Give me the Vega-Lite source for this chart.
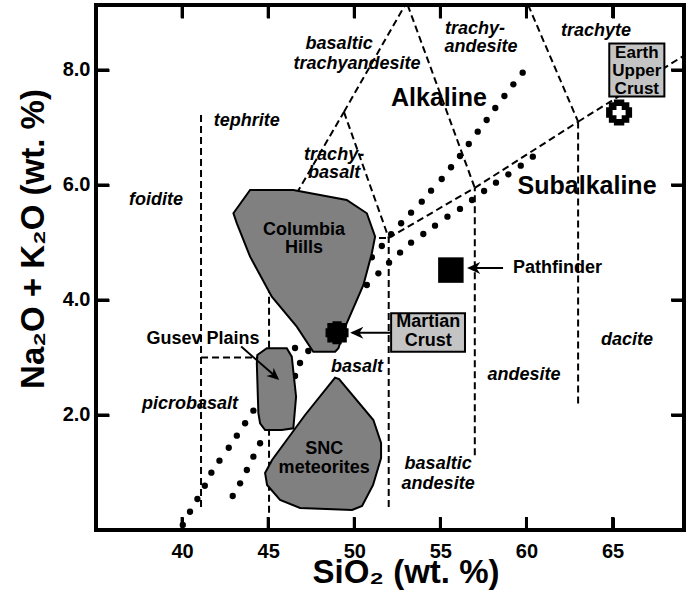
{
  "$schema": "https://vega.github.io/schema/vega-lite/v6.json",
  "width": 588,
  "height": 525,
  "autosize": "none",
  "padding": {"left": 96, "top": 5, "right": 7, "bottom": 72},
  "background": "white",
  "config": {
    "font": "Liberation Sans",
    "view": {"stroke": "black", "strokeWidth": 4}
  },
  "resolve": {"axis": {"x": "independent", "y": "independent"}},
  "datasets": {
    "frameticks": [
      {"x": 40, "y": 0, "x2": 40, "y2": 0.226},
      {"x": 45, "y": 0, "x2": 45, "y2": 0.226},
      {"x": 50, "y": 0, "x2": 50, "y2": 0.226},
      {"x": 55, "y": 0, "x2": 55, "y2": 0.226},
      {"x": 60, "y": 0, "x2": 60, "y2": 0.226},
      {"x": 65, "y": 0, "x2": 65, "y2": 0.226},
      {"x": 40, "y": 9.13, "x2": 40, "y2": 8.904},
      {"x": 45, "y": 9.13, "x2": 45, "y2": 8.904},
      {"x": 50, "y": 9.13, "x2": 50, "y2": 8.904},
      {"x": 55, "y": 9.13, "x2": 55, "y2": 8.904},
      {"x": 60, "y": 9.13, "x2": 60, "y2": 8.904},
      {"x": 65, "y": 9.13, "x2": 65, "y2": 8.904},
      {"x": 35, "y": 2, "x2": 35.755, "y2": 2},
      {"x": 35, "y": 4, "x2": 35.755, "y2": 4},
      {"x": 35, "y": 6, "x2": 35.755, "y2": 6},
      {"x": 35, "y": 8, "x2": 35.755, "y2": 8},
      {"x": 69.15, "y": 2, "x2": 68.395, "y2": 2},
      {"x": 69.15, "y": 4, "x2": 68.395, "y2": 4},
      {"x": 69.15, "y": 6, "x2": 68.395, "y2": 6},
      {"x": 69.15, "y": 8, "x2": 68.395, "y2": 8}
    ],
    "bounds": [
      {"x": 41.1, "y": 0.4, "x2": 41.1, "y2": 7.22},
      {"x": 41.1, "y": 3.0, "x2": 45.05, "y2": 3.0},
      {"x": 45.05, "y": 0.3, "x2": 45.05, "y2": 5.03},
      {"x": 45.05, "y": 5.03, "x2": 52.0, "y2": 5.08},
      {"x": 52.0, "y": 0.4, "x2": 52.0, "y2": 5.08},
      {"x": 52.0, "y": 5.08, "x2": 57.0, "y2": 5.95},
      {"x": 57.0, "y": 1.3, "x2": 57.0, "y2": 5.95},
      {"x": 57.0, "y": 5.95, "x2": 63.0, "y2": 7.1},
      {"x": 63.0, "y": 2.2, "x2": 63.0, "y2": 7.1},
      {"x": 63.0, "y": 7.1, "x2": 69.15, "y2": 8.25},
      {"x": 45.05, "y": 5.03, "x2": 49.4, "y2": 7.27},
      {"x": 49.4, "y": 7.27, "x2": 52.0, "y2": 5.08},
      {"x": 49.4, "y": 7.27, "x2": 52.95, "y2": 9.13},
      {"x": 53.1, "y": 9.13, "x2": 57.0, "y2": 5.95},
      {"x": 60.1, "y": 9.13, "x2": 63.0, "y2": 7.1}
    ],
    "dots": [
      {"s": "A", "x": 40.04, "y": 0.087},
      {"s": "A", "x": 40.46, "y": 0.318},
      {"s": "A", "x": 40.89, "y": 0.539},
      {"s": "A", "x": 41.32, "y": 0.770},
      {"s": "A", "x": 41.70, "y": 0.997},
      {"s": "A", "x": 42.17, "y": 1.205},
      {"s": "A", "x": 42.71, "y": 1.431},
      {"s": "A", "x": 43.18, "y": 1.640},
      {"s": "A", "x": 43.66, "y": 1.856},
      {"s": "A", "x": 44.14, "y": 2.075},
      {"s": "A", "x": 46.56, "y": 3.165},
      {"s": "A", "x": 51.02, "y": 4.743},
      {"s": "A", "x": 51.60, "y": 4.939},
      {"s": "A", "x": 52.14, "y": 5.143},
      {"s": "A", "x": 52.72, "y": 5.334},
      {"s": "A", "x": 53.30, "y": 5.518},
      {"s": "A", "x": 53.92, "y": 5.710},
      {"s": "A", "x": 54.46, "y": 5.901},
      {"s": "A", "x": 55.08, "y": 6.104},
      {"s": "A", "x": 55.62, "y": 6.308},
      {"s": "A", "x": 56.14, "y": 6.504},
      {"s": "A", "x": 56.65, "y": 6.713},
      {"s": "A", "x": 57.17, "y": 6.927},
      {"s": "A", "x": 57.69, "y": 7.130},
      {"s": "A", "x": 58.19, "y": 7.339},
      {"s": "A", "x": 58.72, "y": 7.548},
      {"s": "A", "x": 59.24, "y": 7.751},
      {"s": "A", "x": 59.78, "y": 7.953},
      {"s": "B", "x": 42.94, "y": 0.591},
      {"s": "B", "x": 43.37, "y": 0.812},
      {"s": "B", "x": 43.76, "y": 1.043},
      {"s": "B", "x": 44.14, "y": 1.275},
      {"s": "B", "x": 44.53, "y": 1.508},
      {"s": "B", "x": 46.56, "y": 2.678},
      {"s": "B", "x": 46.85, "y": 2.904},
      {"s": "B", "x": 47.33, "y": 3.113},
      {"s": "B", "x": 50.73, "y": 4.261},
      {"s": "B", "x": 51.40, "y": 4.464},
      {"s": "B", "x": 52.02, "y": 4.649},
      {"s": "B", "x": 52.66, "y": 4.823},
      {"s": "B", "x": 53.30, "y": 4.997},
      {"s": "B", "x": 54.01, "y": 5.148},
      {"s": "B", "x": 54.69, "y": 5.292},
      {"s": "B", "x": 55.41, "y": 5.449},
      {"s": "B", "x": 56.14, "y": 5.583},
      {"s": "B", "x": 56.84, "y": 5.739},
      {"s": "B", "x": 57.54, "y": 5.896},
      {"s": "B", "x": 58.23, "y": 6.040},
      {"s": "B", "x": 58.95, "y": 6.186},
      {"s": "B", "x": 59.67, "y": 6.336},
      {"s": "B", "x": 60.37, "y": 6.492}
    ],
    "polys": [
      {"name": "Columbia Hills", "ord": 1, "x": 42.98, "y": 5.508},
      {"name": "Columbia Hills", "ord": 2, "x": 43.95, "y": 5.913},
      {"name": "Columbia Hills", "ord": 3, "x": 46.46, "y": 5.913},
      {"name": "Columbia Hills", "ord": 4, "x": 49.56, "y": 5.739},
      {"name": "Columbia Hills", "ord": 5, "x": 50.73, "y": 5.508},
      {"name": "Columbia Hills", "ord": 6, "x": 51.21, "y": 5.101},
      {"name": "Columbia Hills", "ord": 7, "x": 51.02, "y": 4.812},
      {"name": "Columbia Hills", "ord": 8, "x": 50.53, "y": 4.261},
      {"name": "Columbia Hills", "ord": 9, "x": 49.56, "y": 3.595},
      {"name": "Columbia Hills", "ord": 10, "x": 49.08, "y": 3.160},
      {"name": "Columbia Hills", "ord": 11, "x": 48.89, "y": 3.101},
      {"name": "Columbia Hills", "ord": 12, "x": 47.62, "y": 3.101},
      {"name": "Columbia Hills", "ord": 13, "x": 46.66, "y": 3.536},
      {"name": "Columbia Hills", "ord": 14, "x": 45.21, "y": 4.057},
      {"name": "Columbia Hills", "ord": 15, "x": 43.95, "y": 4.753},
      {"name": "Columbia Hills", "ord": 16, "x": 43.18, "y": 5.334},
      {"name": "Gusev Plains", "ord": 1, "x": 44.37, "y": 3.043},
      {"name": "Gusev Plains", "ord": 2, "x": 44.92, "y": 3.160},
      {"name": "Gusev Plains", "ord": 3, "x": 46.08, "y": 3.160},
      {"name": "Gusev Plains", "ord": 4, "x": 46.37, "y": 3.014},
      {"name": "Gusev Plains", "ord": 5, "x": 46.62, "y": 2.318},
      {"name": "Gusev Plains", "ord": 6, "x": 46.46, "y": 1.769},
      {"name": "Gusev Plains", "ord": 7, "x": 45.79, "y": 1.739},
      {"name": "Gusev Plains", "ord": 8, "x": 44.82, "y": 1.739},
      {"name": "Gusev Plains", "ord": 9, "x": 44.53, "y": 1.856},
      {"name": "Gusev Plains", "ord": 10, "x": 44.43, "y": 2.030},
      {"name": "Gusev Plains", "ord": 11, "x": 44.34, "y": 2.899},
      {"name": "SNC meteorites", "ord": 1, "x": 48.885, "y": 2.649},
      {"name": "SNC meteorites", "ord": 2, "x": 49.117, "y": 2.626},
      {"name": "SNC meteorites", "ord": 3, "x": 51.109, "y": 1.913},
      {"name": "SNC meteorites", "ord": 4, "x": 51.556, "y": 1.513},
      {"name": "SNC meteorites", "ord": 5, "x": 51.556, "y": 1.252},
      {"name": "SNC meteorites", "ord": 6, "x": 51.092, "y": 0.783},
      {"name": "SNC meteorites", "ord": 7, "x": 50.453, "y": 0.417},
      {"name": "SNC meteorites", "ord": 8, "x": 49.872, "y": 0.348},
      {"name": "SNC meteorites", "ord": 9, "x": 46.852, "y": 0.383},
      {"name": "SNC meteorites", "ord": 10, "x": 45.691, "y": 0.522},
      {"name": "SNC meteorites", "ord": 11, "x": 44.936, "y": 0.783},
      {"name": "SNC meteorites", "ord": 12, "x": 44.820, "y": 0.991},
      {"name": "SNC meteorites", "ord": 13, "x": 45.226, "y": 1.217},
      {"name": "SNC meteorites", "ord": 14, "x": 47.143, "y": 2.0}
    ],
    "markers": [
      {"name": "Martian Crust", "x": 49.0, "y": 3.43},
      {"name": "Pathfinder", "x": 55.61, "y": 4.52},
      {"name": "Earth Upper Crust", "x": 65.38, "y": 7.26}
    ],
    "boxes": [
      {"name": "Martian Crust", "x": 52.14, "x2": 56.43, "y": 3.10, "y2": 3.77},
      {"name": "Earth Upper Crust", "x": 64.81, "x2": 68.01, "y": 7.54, "y2": 8.46}
    ],
    "arrows": [
      {"name": "Martian Crust", "x": 52.17, "y": 3.43, "x2": 49.9, "y2": 3.43},
      {"name": "Pathfinder", "x": 58.64, "y": 4.557, "x2": 56.7, "y2": 4.557},
      {"name": "Gusev Plains", "x": 43.43, "y": 3.19, "x2": 45.5, "y2": 2.65}
    ],
    "heads": [
      {"name": "Martian Crust", "x": 49.76, "y": 3.43},
      {"name": "Pathfinder", "x": 56.55, "y": 4.557},
      {"name": "Gusev Plains", "x": 45.64, "y": 2.61}
    ],
    "rocks": [
      {"t": "foidite", "x": 38.49, "y": 5.74},
      {"t": "tephrite", "x": 43.76, "y": 7.11},
      {"t": "basaltic", "x": 49.12, "y": 8.45},
      {"t": "trachyandesite", "x": 50.16, "y": 8.10},
      {"t": "trachy-", "x": 57.01, "y": 8.72},
      {"t": "andesite", "x": 57.36, "y": 8.40},
      {"t": "trachyte", "x": 64.04, "y": 8.67},
      {"t": "trachy-", "x": 48.83, "y": 6.52},
      {"t": "basalt", "x": 48.83, "y": 6.20},
      {"t": "picrobasalt", "x": 40.46, "y": 2.19},
      {"t": "basalt", "x": 50.16, "y": 2.84},
      {"t": "andesite", "x": 59.86, "y": 2.70},
      {"t": "dacite", "x": 65.84, "y": 3.30},
      {"t": "basaltic", "x": 54.87, "y": 1.14},
      {"t": "andesite", "x": 54.87, "y": 0.80}
    ],
    "names": [
      {"t": "Columbia", "x": 47.08, "y": 5.22},
      {"t": "Hills", "x": 47.08, "y": 4.90},
      {"t": "Gusev Plains", "x": 41.22, "y": 3.32},
      {"t": "SNC", "x": 48.25, "y": 1.41},
      {"t": "meteorites", "x": 48.25, "y": 1.08},
      {"t": "Martian", "x": 54.29, "y": 3.61},
      {"t": "Crust", "x": 54.29, "y": 3.29}
    ],
    "earth": [
      {"t": "Earth", "x": 66.41, "y": 8.29},
      {"t": "Upper", "x": 66.41, "y": 7.98},
      {"t": "Crust", "x": 66.41, "y": 7.67}
    ],
    "path": [
      {"t": "Pathfinder", "x": 59.22, "y": 4.56}
    ],
    "big": [
      {"t": "Alkaline", "x": 54.92, "y": 7.51},
      {"t": "Subalkaline", "x": 63.52, "y": 5.98}
    ]
  },
  "layer": [
    {
      "data": {"name": "bounds"},
      "mark": {"type": "rule", "color": "black", "strokeWidth": 2, "strokeDash": [7, 4], "clip": true},
      "encoding": {
        "x": {"field": "x", "type": "quantitative",
          "scale": {"domain": [35, 69.15], "nice": false, "zero": false},
          "axis": {"orient": "bottom", "offset": -13, "values": [40, 45, 50, 55, 60, 65], "format": "d", "domain": false, "grid": false,
            "ticks": true, "tickSize": 13, "tickWidth": 3, "tickColor": "black", "tickOpacity": 1,
            "labelFontSize": 20, "labelFontWeight": "bold", "labelColor": "black", "labelPadding": 27, "labelBaseline": "alphabetic",
            "title": "SiO₂ (wt. %)", "titleFontSize": 33, "titleFontWeight": "bold", "titleColor": "black",
            "titleX": 309.5, "titleY": 65, "titleBaseline": "alphabetic", "titleAlign": "center"}},
        "y": {"field": "y", "type": "quantitative",
          "scale": {"domain": [0, 9.13], "nice": false, "zero": false},
          "axis": {"orient": "left", "offset": -13, "values": [2, 4, 6, 8], "format": ".1f", "domain": false, "grid": false,
            "ticks": true, "tickSize": 13, "tickWidth": 3, "tickColor": "black", "tickOpacity": 1,
            "labelFontSize": 20, "labelFontWeight": "bold", "labelColor": "black", "labelPadding": 6,
            "title": "Na₂O + K₂O (wt. %)", "titleFontSize": 33, "titleFontWeight": "bold", "titleColor": "black",
            "titleX": -66, "titleY": 233.5, "titleAngle": -90, "titleBaseline": "alphabetic", "titleAlign": "center"}},
        "x2": {"field": "x2"},
        "y2": {"field": "y2"}
      }
    },
    {
      "data": {"name": "frameticks"},
      "mark": {"type": "rule", "color": "black", "strokeWidth": 3},
      "encoding": {
        "x": {"field": "x", "type": "quantitative", "scale": {"domain": [35, 69.15], "nice": false, "zero": false}, "axis": null},
        "y": {"field": "y", "type": "quantitative", "scale": {"domain": [0, 9.13], "nice": false, "zero": false}, "axis": null},
        "x2": {"field": "x2"},
        "y2": {"field": "y2"}
      }
    },
    {
      "data": {"name": "dots"},
      "mark": {"type": "circle", "color": "black", "opacity": 1, "size": 40},
      "encoding": {
        "x": {"field": "x", "type": "quantitative",
          "scale": {"domain": [35, 69.15], "nice": false, "zero": false},
          "axis": {"orient": "top", "offset": -13, "values": [40, 45, 50, 55, 60, 65], "labels": false, "domain": false, "grid": false,
            "ticks": true, "tickSize": 13, "tickWidth": 3, "tickColor": "black", "tickOpacity": 1, "title": null}},
        "y": {"field": "y", "type": "quantitative",
          "scale": {"domain": [0, 9.13], "nice": false, "zero": false},
          "axis": {"orient": "right", "offset": -13, "values": [2, 4, 6, 8], "labels": false, "domain": false, "grid": false,
            "ticks": true, "tickSize": 13, "tickWidth": 3, "tickColor": "black", "tickOpacity": 1, "title": null}}
      }
    },
    {
      "data": {"name": "polys"},
      "mark": {"type": "line", "interpolate": "linear-closed", "fill": "#808080", "stroke": "black", "strokeWidth": 2},
      "encoding": {
        "x": {"field": "x", "type": "quantitative", "scale": {"domain": [35, 69.15], "nice": false, "zero": false}, "axis": null},
        "y": {"field": "y", "type": "quantitative", "scale": {"domain": [0, 9.13], "nice": false, "zero": false}, "axis": null},
        "detail": {"field": "name"},
        "order": {"field": "ord", "type": "quantitative"}
      }
    },
    {
      "data": {"name": "markers"},
      "transform": [{"filter": "datum.name == 'Martian Crust'"}],
      "layer": [
        {"mark": {"type": "point", "shape": "cross", "filled": true, "color": "black", "opacity": 1, "size": 529}},
        {"mark": {"type": "point", "shape": "square", "filled": true, "color": "black", "opacity": 1, "size": 380}}
      ],
      "encoding": {
        "x": {"field": "x", "type": "quantitative", "scale": {"domain": [35, 69.15], "nice": false, "zero": false}, "axis": null},
        "y": {"field": "y", "type": "quantitative", "scale": {"domain": [0, 9.13], "nice": false, "zero": false}, "axis": null}
      }
    },
    {
      "data": {"name": "markers"},
      "transform": [{"filter": "datum.name == 'Pathfinder'"}],
      "mark": {"type": "point", "shape": "square", "filled": true, "color": "black", "opacity": 1, "size": 650},
      "encoding": {
        "x": {"field": "x", "type": "quantitative", "scale": {"domain": [35, 69.15], "nice": false, "zero": false}, "axis": null},
        "y": {"field": "y", "type": "quantitative", "scale": {"domain": [0, 9.13], "nice": false, "zero": false}, "axis": null}
      }
    },
    {
      "data": {"name": "markers"},
      "transform": [{"filter": "datum.name == 'Earth Upper Crust'"}],
      "layer": [
        {"mark": {"type": "point", "shape": "cross", "filled": true, "color": "black", "opacity": 1, "size": 676}},
        {"mark": {"type": "point", "shape": "square", "filled": true, "color": "black", "opacity": 1, "size": 420}},
        {"mark": {"type": "point", "shape": "cross", "filled": true, "color": "white", "opacity": 1, "size": 169}}
      ],
      "encoding": {
        "x": {"field": "x", "type": "quantitative", "scale": {"domain": [35, 69.15], "nice": false, "zero": false}, "axis": null},
        "y": {"field": "y", "type": "quantitative", "scale": {"domain": [0, 9.13], "nice": false, "zero": false}, "axis": null}
      }
    },
    {
      "data": {"name": "boxes"},
      "mark": {"type": "rect", "fill": "#c4c4c4", "stroke": "black", "strokeWidth": 2},
      "encoding": {
        "x": {"field": "x", "type": "quantitative", "scale": {"domain": [35, 69.15], "nice": false, "zero": false}, "axis": null},
        "y": {"field": "y", "type": "quantitative", "scale": {"domain": [0, 9.13], "nice": false, "zero": false}, "axis": null},
        "x2": {"field": "x2"},
        "y2": {"field": "y2"}
      }
    },
    {
      "data": {"name": "arrows"},
      "mark": {"type": "rule", "color": "black", "strokeWidth": 2},
      "encoding": {
        "x": {"field": "x", "type": "quantitative", "scale": {"domain": [35, 69.15], "nice": false, "zero": false}, "axis": null},
        "y": {"field": "y", "type": "quantitative", "scale": {"domain": [0, 9.13], "nice": false, "zero": false}, "axis": null},
        "x2": {"field": "x2"},
        "y2": {"field": "y2"}
      }
    },
    {
      "data": {"name": "heads"},
      "transform": [{"filter": "datum.name != 'Gusev Plains'"}],
      "mark": {"type": "point", "shape": "M0,0L-1,-0.45L-0.7,0L-1,0.45Z", "filled": true, "color": "black", "opacity": 1, "size": 700, "angle": 180},
      "encoding": {
        "x": {"field": "x", "type": "quantitative", "scale": {"domain": [35, 69.15], "nice": false, "zero": false}, "axis": null},
        "y": {"field": "y", "type": "quantitative", "scale": {"domain": [0, 9.13], "nice": false, "zero": false}, "axis": null}
      }
    },
    {
      "data": {"name": "heads"},
      "transform": [{"filter": "datum.name == 'Gusev Plains'"}],
      "mark": {"type": "point", "shape": "M0,0L-1,-0.45L-0.7,0L-1,0.45Z", "filled": true, "color": "black", "opacity": 1, "size": 600, "angle": 41},
      "encoding": {
        "x": {"field": "x", "type": "quantitative", "scale": {"domain": [35, 69.15], "nice": false, "zero": false}, "axis": null},
        "y": {"field": "y", "type": "quantitative", "scale": {"domain": [0, 9.13], "nice": false, "zero": false}, "axis": null}
      }
    },
    {
      "data": {"name": "rocks"},
      "mark": {"type": "text", "fontSize": 18, "fontWeight": "bold", "fontStyle": "italic", "color": "black", "align": "center", "baseline": "middle"},
      "encoding": {
        "x": {"field": "x", "type": "quantitative", "scale": {"domain": [35, 69.15], "nice": false, "zero": false}, "axis": null},
        "y": {"field": "y", "type": "quantitative", "scale": {"domain": [0, 9.13], "nice": false, "zero": false}, "axis": null},
        "text": {"field": "t"}
      }
    },
    {
      "data": {"name": "names"},
      "mark": {"type": "text", "fontSize": 18, "fontWeight": "bold", "color": "black", "align": "center", "baseline": "middle"},
      "encoding": {
        "x": {"field": "x", "type": "quantitative", "scale": {"domain": [35, 69.15], "nice": false, "zero": false}, "axis": null},
        "y": {"field": "y", "type": "quantitative", "scale": {"domain": [0, 9.13], "nice": false, "zero": false}, "axis": null},
        "text": {"field": "t"}
      }
    },
    {
      "data": {"name": "earth"},
      "mark": {"type": "text", "fontSize": 17, "fontWeight": "bold", "color": "black", "align": "center", "baseline": "middle"},
      "encoding": {
        "x": {"field": "x", "type": "quantitative", "scale": {"domain": [35, 69.15], "nice": false, "zero": false}, "axis": null},
        "y": {"field": "y", "type": "quantitative", "scale": {"domain": [0, 9.13], "nice": false, "zero": false}, "axis": null},
        "text": {"field": "t"}
      }
    },
    {
      "data": {"name": "path"},
      "mark": {"type": "text", "fontSize": 18, "fontWeight": "bold", "color": "black", "align": "left", "baseline": "middle"},
      "encoding": {
        "x": {"field": "x", "type": "quantitative", "scale": {"domain": [35, 69.15], "nice": false, "zero": false}, "axis": null},
        "y": {"field": "y", "type": "quantitative", "scale": {"domain": [0, 9.13], "nice": false, "zero": false}, "axis": null},
        "text": {"field": "t"}
      }
    },
    {
      "data": {"name": "big"},
      "mark": {"type": "text", "fontSize": 25, "fontWeight": "bold", "color": "black", "align": "center", "baseline": "middle"},
      "encoding": {
        "x": {"field": "x", "type": "quantitative", "scale": {"domain": [35, 69.15], "nice": false, "zero": false}, "axis": null},
        "y": {"field": "y", "type": "quantitative", "scale": {"domain": [0, 9.13], "nice": false, "zero": false}, "axis": null},
        "text": {"field": "t"}
      }
    }
  ]
}
